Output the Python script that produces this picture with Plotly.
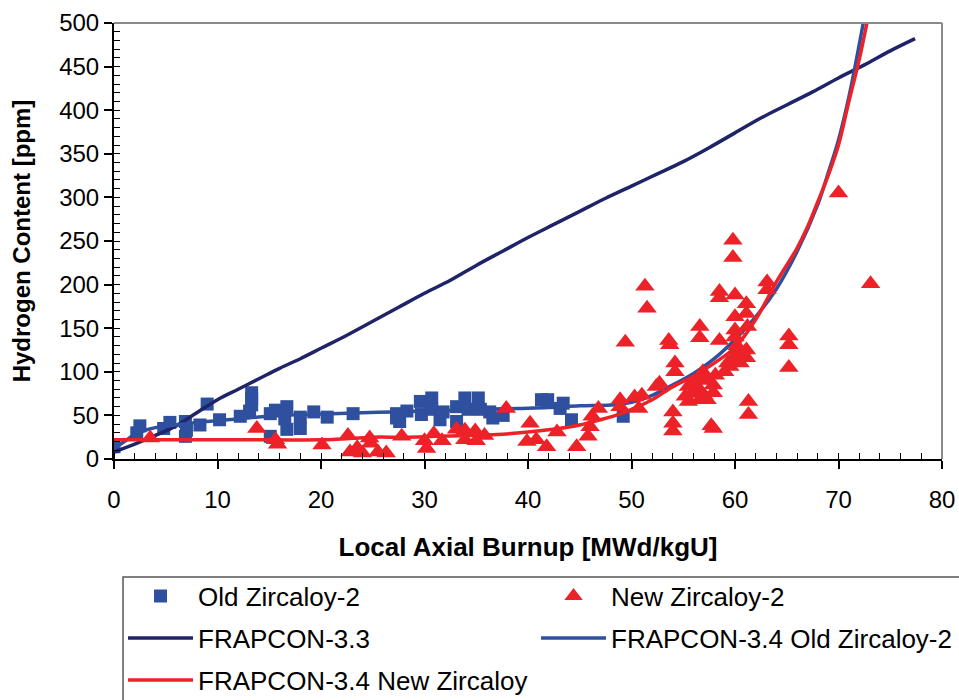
import plotly.graph_objects as go

# ---------------- data ----------------
old_x = [0, 2.2, 2.5, 4.8, 5.4, 6.9, 6.9, 7.0, 8.3, 9.0, 10.2, 12.2, 13.3, 13.3, 13.3, 13.1,
         15.1, 15.1, 15.6, 16.5, 16.7, 16.7, 18.0, 18.0, 19.3, 20.6, 23.1, 27.3, 27.3, 27.6,
         28.3, 29.6, 29.7, 30.7, 30.7, 31.5, 31.8, 33.1, 33.1, 33.9, 34.2, 35.2, 35.4, 36.3,
         36.6, 37.6, 41.3, 41.9, 43.1, 43.4, 44.2, 49.2]
old_y = [14, 30, 38, 35, 42, 43, 26, 33, 39, 63, 45, 49, 76, 69, 62, 55,
         52, 26, 56, 46, 60, 34, 48, 35, 54, 48, 52, 52, 47, 43,
         55, 66, 51, 70, 57, 45, 54, 60, 43, 70, 57, 70, 57, 54,
         47, 50, 68, 68, 58, 64, 45, 49]

new_x = [3.5, 13.8, 15.6, 15.8, 20.1, 22.6, 22.8, 23.5, 24.0, 24.7, 24.8, 25.5, 26.3, 27.8,
         30.0, 30.2, 30.9, 31.7, 33.1, 33.9, 33.9, 34.9, 35.0, 35.8, 37.9, 39.9, 40.2, 40.8,
         41.8, 42.8, 44.7, 45.8, 46.0, 46.2, 46.8, 48.9, 48.9, 49.4, 50.3, 50.7, 51.0, 51.3,
         51.5, 52.4, 52.7, 53.6, 53.7, 54.2, 54.2, 54.0, 54.0, 54.0, 55.5, 55.5, 55.9, 56.0,
         56.3, 56.6, 56.6, 56.6, 56.6, 56.6, 57.0, 57.2, 57.3, 57.9, 57.9, 57.9, 57.7, 58.5,
         58.5, 58.5, 59.0, 59.3, 59.5, 59.7, 59.8, 59.8, 60.0, 60.0, 60.0, 60.0, 60.2, 60.2,
         60.3, 60.0, 61.1, 61.1, 61.2, 61.1, 61.1, 60.5, 61.3, 61.3, 63.1, 63.1, 65.2, 65.2,
         65.2, 70.0, 73.1, 55.2, 56.9, 58.1]
new_y = [24, 35, 22, 17, 16, 27, 8, 13, 7, 24, 18, 8, 7, 26,
         21, 12, 29, 21, 34, 33, 22, 32, 21, 27, 58, 20, 41, 22,
         14, 31, 14, 26, 37, 49, 58, 68, 60, 134, 71, 58, 73, 198,
         173, 83, 87, 136, 131, 110, 100, 54, 41, 32, 83, 66, 75, 88,
         80, 152, 139, 94, 79, 68, 73, 90, 68, 85, 76, 35, 38, 136,
         192, 185, 100, 110, 106, 114, 251, 231, 188, 163, 148, 140, 130, 121,
         125, 118, 178, 167, 152, 125, 116, 110, 66, 51, 203, 194, 141, 131,
         105, 305, 201, 72, 100, 96]

f33_x = [0, 2, 4, 6, 8, 10, 12, 14, 16, 18, 20, 22.5, 25, 27.5, 30, 32.5, 35, 37.5, 40,
         42.5, 45, 47.5, 50, 52.5, 55, 57.5, 60, 62.5, 65, 67.5, 70, 72.5, 75, 77.4]
f33_y = [8, 17, 27, 38, 53, 68, 80, 92, 104, 115, 127, 142, 158, 174, 190, 205, 222, 238, 254,
         269, 284, 299, 313, 327, 341, 357, 374, 391, 406, 421, 437, 452, 468, 482]

f34o_x = [0, 1, 2, 3, 4, 6, 8, 10, 12, 15, 18, 21, 24, 27, 30, 33, 36, 39, 42, 45, 48, 50,
          52, 54, 56, 58, 60, 62, 64, 66, 68, 69, 70, 71, 72, 73]
f34o_y = [12, 20, 28, 33, 36, 39, 42, 44, 46, 49, 51, 52, 53, 54, 55, 56, 57, 58, 59, 61, 62, 65,
          73, 85, 98, 115, 137, 163, 195, 238, 292, 328, 366, 415, 475, 540]

f34n_x = [0, 5, 10, 15, 20, 22, 25, 28, 31, 34, 37, 40, 43, 45, 47, 49, 50, 52, 54, 56, 58,
          60, 62, 64, 66, 67, 68, 69, 70, 71, 72, 73]
f34n_y = [22, 22, 22, 22, 22, 23, 25, 25, 26, 27, 28, 31, 35, 39, 45, 52, 57, 68, 83, 95, 110,
          128, 160, 203, 242, 266, 295, 325, 360, 410, 458, 515]

x_ticks = [0, 10, 20, 30, 40, 50, 60, 70, 80]
y_ticks = [0, 50, 100, 150, 200, 250, 300, 350, 400, 450, 500]

NAVY = "#1f2468"
BLUE = "#2f4f9f"
RED = "#ed2228"
FONT = "Liberation Sans, Arial, sans-serif"

fig = go.Figure()
fig.add_trace(go.Scatter(x=old_x, y=old_y, mode="markers", name="Old Zircaloy-2",
                         marker=dict(symbol="square", size=13, color=BLUE), legend="legend"))
fig.add_trace(go.Scatter(x=f33_x, y=f33_y, mode="lines", name="FRAPCON-3.3",
                         line=dict(color=NAVY, width=3.5, shape="spline"), legend="legend3"))
fig.add_trace(go.Scatter(x=f34o_x, y=f34o_y, mode="lines", name="FRAPCON-3.4 Old Zircaloy-2",
                         line=dict(color=BLUE, width=3.5, shape="spline"), legend="legend4"))
fig.add_trace(go.Scatter(x=f34n_x, y=f34n_y, mode="lines", name="FRAPCON-3.4 New Zircaloy",
                         line=dict(color=RED, width=3.5, shape="spline"), legend="legend5"))
fig.add_trace(go.Scatter(x=new_x, y=new_y, mode="markers", name="New Zircaloy-2",
                         marker=dict(symbol="triangle-up", size=17, color=RED), legend="legend2"))


def leg(x, y):
    return dict(orientation="v", xanchor="left", yanchor="middle", x=x, y=y,
                itemwidth=65, font=dict(family=FONT, size=26, color="black"),
                bgcolor="rgba(0,0,0,0)", borderwidth=0)


c1, c2 = 0.0109, 0.5097
r1, r2, r3 = -0.3142, -0.4106, -0.5069

fig.update_layout(
    width=959, height=700,
    margin=dict(l=114, r=17, t=23, b=241, autoexpand=False),
    paper_bgcolor="white", plot_bgcolor="white",
    font=dict(family=FONT, color="black"),
    showlegend=True,
    legend=leg(c1, r1), legend2=leg(c2, r1),
    legend3=leg(c1, r2), legend4=leg(c2, r2),
    legend5=leg(c1, r3),
    xaxis=dict(range=[0, 80], tickvals=x_ticks, ticks="outside", ticklen=8, tickwidth=1.5,
               tickcolor="black", showline=True, linecolor="black", linewidth=2,
               showgrid=False, zeroline=False, automargin=False, ticklabelstandoff=10,
               ticklabeloverflow="allow",
               tickfont=dict(family=FONT, size=24, color="black"),
               minor=dict(dtick=2, ticks="inside", ticklen=6, tickcolor="black", tickwidth=1.2),
               title=dict(text="<b>Local Axial Burnup [MWd/kgU]</b>",
                          font=dict(family=FONT, size=26, color="black"), standoff=26)),
    yaxis=dict(range=[0, 500], tickvals=y_ticks, ticks="outside", ticklen=8, tickwidth=1.5,
               tickcolor="black", showline=True, linecolor="black", linewidth=2,
               showgrid=False, zeroline=False, automargin=False,
               tickfont=dict(family=FONT, size=24, color="black"),
               minor=dict(dtick=10, ticks="inside", ticklen=6, tickcolor="black", tickwidth=1.2),
               title=dict(text="<b>Hydrogen Content [ppm]</b>",
                          font=dict(family=FONT, size=24, color="black"), standoff=22)),
)

# top/right frame lines (gray) and legend box
fig.add_shape(type="line", xref="paper", yref="paper", x0=0, x1=1, y0=1, y1=1,
              line=dict(color="#8a8a8a", width=2))
fig.add_shape(type="line", xref="paper", yref="paper", x0=1, x1=1, y0=0, y1=1,
              line=dict(color="#8a8a8a", width=2))
fig.add_shape(type="rect", xref="paper", yref="paper", x0=0.0109, x1=1.03, y0=-0.58, y1=-0.2706,
              line=dict(color="#555555", width=1.5), fillcolor="rgba(0,0,0,0)", layer="below")

# remove the default 8px page margin so the 959x700 figure fills the window exactly
fig.write_html("out.html", config={"displayModeBar": False},
               post_script="document.body.style.margin='0px';")
